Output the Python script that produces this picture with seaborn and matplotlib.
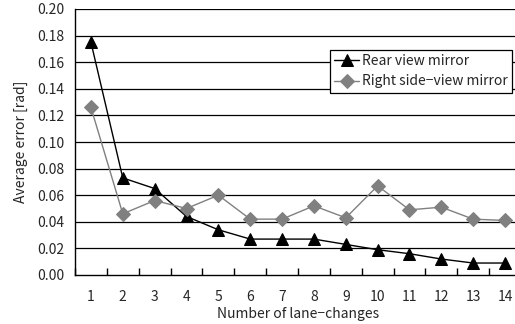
import pandas as pd
import matplotlib
matplotlib.use("Agg")
import matplotlib.pyplot as plt
import seaborn as sns

sns.set_theme(style="white")
plt.rcParams['font.family'] = ['Noto Sans CJK JP', 'DejaVu Sans']

# values
lane_changes = list(range(1, 15))
rear_view = [0.175, 0.073, 0.065, 0.044, 0.034, 0.027, 0.027, 0.027, 0.023, 0.019, 0.016, 0.012, 0.009, 0.009]
right_side = [0.126, 0.046, 0.056, 0.050, 0.060, 0.042, 0.042, 0.052, 0.043, 0.067, 0.049, 0.051, 0.042, 0.041]
series_names = ["Rear view mirror", "Right side\u2212view mirror"]

df = pd.DataFrame({
    "n": lane_changes * 2,
    "err": rear_view + right_side,
    "series": [series_names[0]] * 14 + [series_names[1]] * 14,
})

fig = plt.figure(figsize=(5.15, 3.24), dpi=100)
ax = fig.add_axes([75 / 515, 49 / 324, 446 / 515, 266 / 324])

ax.set_ylim(0, 0.20)
ax.set_xlim(0.5, 14.5)
ax.set_yticks([i * 0.02 for i in range(11)])
for y in [i * 0.02 for i in range(1, 11)]:
    ax.axhline(y, color="black", lw=0.9, zorder=0)

sns.lineplot(data=df, x="n", y="err", hue="series", style="series",
             markers=["^", "D"], dashes=False, palette=["black", "#808080"],
             lw=1.0, ax=ax, zorder=3)

marker_size = {"^": 8.5, "D": 7.5}
for line in ax.get_lines():
    m = line.get_marker()
    if m in marker_size:
        line.set_markersize(marker_size[m])
        line.set_markeredgecolor(line.get_color())

ax.set_xticks(lane_changes)
ax.set_xticklabels([str(i) for i in lane_changes])
ax.set_xticks([i + 0.5 for i in range(0, 15)], minor=True)
ax.tick_params(axis="x", which="major", length=0, pad=11, labelsize=10)
ax.tick_params(axis="x", which="minor", direction="in", length=5, width=1,
               color="black", bottom=True)
ax.tick_params(axis="y", which="major", length=0, labelsize=10, pad=8)
ax.set_yticklabels([f"{v:.2f}" for v in ax.get_yticks()])

for s in ["top", "right"]:
    ax.spines[s].set_visible(False)
for s in ["left", "bottom"]:
    ax.spines[s].set_color("black")
    ax.spines[s].set_linewidth(1.0)

ax.set_xlabel("Number of lane\u2212changes", fontsize=10, labelpad=2)
ax.set_ylabel("Average error [rad]", fontsize=10, labelpad=6)

handles, labels = ax.get_legend_handles_labels()
for h in handles:
    m = h.get_marker()
    if m in marker_size:
        h.set_markersize(marker_size[m])
        h.set_markeredgecolor(h.get_color())
leg = ax.legend(handles, labels, loc="upper left", bbox_to_anchor=(255 / 446, 1 - 41 / 266),
                frameon=True, fancybox=False, edgecolor="black", framealpha=1,
                fontsize=10, handlelength=1.8, handletextpad=0.2, borderpad=0.3,
                labelspacing=0.45, borderaxespad=0)
leg.get_frame().set_linewidth(0.9)

fig.savefig("out.png", dpi=100)
